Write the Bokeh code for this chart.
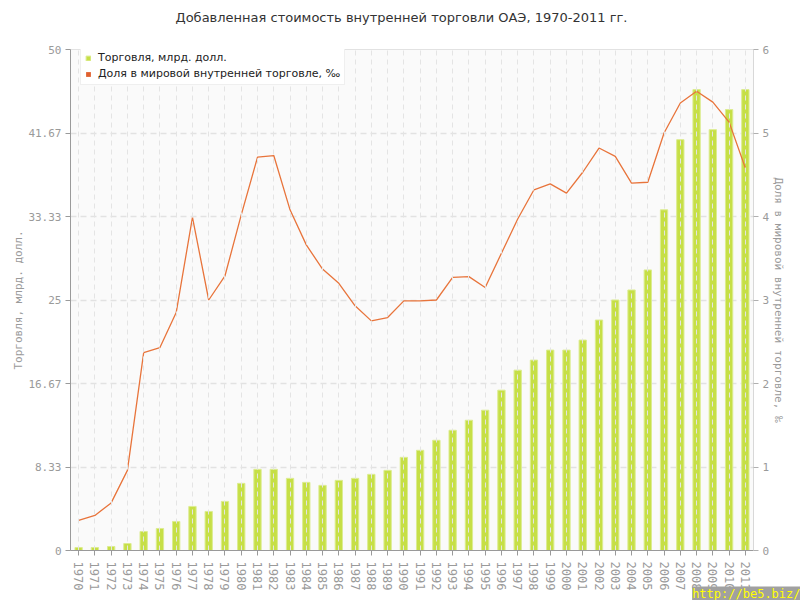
from bokeh.plotting import figure
from bokeh.models import (Range1d, LinearAxis, FactorRange, FixedTicker, CustomJSTickFormatter,
                          Legend, LegendItem, Title, ColumnDataSource)
from bokeh.embed import file_html
from bokeh.resources import INLINE

years = ["1970", "1971", "1972", "1973", "1974", "1975", "1976", "1977", "1978", "1979",
         "1980", "1981", "1982", "1983", "1984", "1985", "1986", "1987", "1988", "1989",
         "1990", "1991", "1992", "1993", "1994", "1995", "1996", "1997", "1998", "1999",
         "2000", "2001", "2002", "2003", "2004", "2005", "2006", "2007", "2008", "2009",
         "2010", "2011"]

trade = [0.3, 0.3, 0.4, 0.7, 1.9, 2.2, 2.9, 4.4, 3.9, 4.9,
         6.7, 8.1, 8.1, 7.2, 6.8, 6.5, 7.0, 7.2, 7.6, 8.0,
         9.3, 10.0, 11.0, 12.0, 13.0, 14.0, 16.0, 18.0, 19.0, 20.0,
         20.0, 21.0, 23.0, 25.0, 26.0, 28.0, 34.0, 41.0, 46.0, 42.0,
         44.0, 46.0]

share = [0.36, 0.42, 0.57, 0.96, 2.37, 2.43, 2.85, 3.99, 3.00, 3.29,
         4.02, 4.71, 4.73, 4.08, 3.66, 3.37, 3.20, 2.93, 2.75, 2.79,
         2.99, 2.99, 3.00, 3.27, 3.28, 3.15, 3.56, 3.97, 4.32, 4.39,
         4.28, 4.53, 4.82, 4.72, 4.40, 4.41, 5.00, 5.36, 5.50, 5.37,
         5.13, 4.58]

left_ticks = [0, 50 / 6, 100 / 6, 25, 200 / 6, 250 / 6, 50]
right_ticks = [0, 1, 2, 3, 4, 5, 6]

title_text = "Добавленная стоимость внутренней торговли ОАЭ, 1970-2011 гг."
trade_label = "Торговля, млрд. долл."
share_label = "Доля в мировой внутренней торговле, ‰"
watermark = "http://be5.biz/"

src = ColumnDataSource(dict(year=years, trade=trade, share=share))

GREY = "#9a9a9a"
BAR = "#c6df46"
LINE = "#e8743b"
SHARE_KEY = "#e0602e"
mono = "DejaVu Sans Mono"

p = figure(width=800, height=600, x_range=FactorRange(*years), y_range=Range1d(0, 50),
           output_backend="svg", toolbar_location=None,
           min_border_left=70, min_border_right=47, min_border_top=49, min_border_bottom=50,
           background_fill_color="#fafafa", border_fill_color="white")
p.outline_line_color = "#e2e2e2"

# empty spacer between the frame and the title (title is stacked outermost)
p.add_layout(Title(text=" ", text_font_size="1px", standoff=22), "above")

# title
p.title.text = title_text
p.title.align = "left"
p.title.offset = 105
p.title.text_font = "DejaVu Sans"
p.title.text_font_size = "13px"
p.title.text_font_style = "normal"
p.title.text_color = "#333333"
p.title.standoff = 0

p.extra_y_ranges = {"share": Range1d(0, 6)}

bars = p.vbar(x="year", top="trade", width=0.45, source=src,
              fill_color=BAR, line_color="#dcec90", line_width=1)
p.line(x="year", y="share", y_range_name="share", source=src,
       line_color=LINE, line_width=1.3)
# zero-height, fill-only bars: invisible in the plot, give the line's series a square legend key
share_key = p.vbar(x="year", top=0, bottom=0, width=0.45, source=src,
                   fill_color=SHARE_KEY, line_color=None)

# axes
la = p.yaxis[0]
la.ticker = FixedTicker(ticks=left_ticks)
la.formatter = CustomJSTickFormatter(code="return (Math.round(tick*100)/100).toString();")
la.axis_label = trade_label

ra = LinearAxis(y_range_name="share", ticker=FixedTicker(ticks=right_ticks), axis_label=share_label)
p.add_layout(ra, "right")

for ax in (la, ra, p.xaxis[0]):
    ax.major_label_text_font = mono
    ax.major_label_text_font_size = "11px"
    ax.major_label_text_color = GREY
    ax.axis_label_text_font = mono
    ax.axis_label_text_font_size = "11px"
    ax.axis_label_text_font_style = "normal"
    ax.axis_label_text_color = GREY
    ax.axis_line_color = GREY
    ax.major_tick_line_color = GREY
    ax.major_tick_out = 5
    ax.major_tick_in = 0
    ax.minor_tick_line_color = None
ra.axis_line_color = "#d8d8d8"
ra.major_tick_line_color = "#b0b0b0"
ra.major_label_standoff = 4
ra.axis_label_standoff = 0
la.major_label_standoff = 4
la.axis_label_standoff = 0

xa = p.xaxis[0]
xa.major_label_orientation = "vertical"
xa.major_label_text_font_size = "12px"
xa.major_label_standoff = 6

# grids
p.ygrid.ticker = FixedTicker(ticks=left_ticks)
p.ygrid.grid_line_color = "#e2e2e2"
p.ygrid.grid_line_dash = "6 4"
p.ygrid.grid_line_width = 1.5
p.xgrid.grid_line_color = "#e4e4e4"
p.xgrid.grid_line_dash = "5 4"
p.xgrid.grid_line_width = 1
p.xgrid.level = "glyph"

# legend (inside the frame, top left)
legend = Legend(items=[LegendItem(label=trade_label, renderers=[bars]),
                       LegendItem(label=share_label, renderers=[share_key])],
                location=(10, 465), orientation="vertical",
                glyph_width=6, glyph_height=6, label_height=12, label_standoff=7,
                spacing=3, padding=4, margin=0,
                label_text_font="DejaVu Sans", label_text_font_size="11px",
                label_text_color="#222222",
                background_fill_color="white", background_fill_alpha=1,
                border_line_color="#e0e0e0", border_line_width=1)
p.add_layout(legend)

# watermark below the x axis, at the right
wm = Title(text=watermark, align="right", offset=-47, standoff=-14, vertical_align="top",
           text_font=mono, text_font_size="12px", text_font_style="normal",
           text_color="#ffff00", background_fill_color="#a0a0a0", background_fill_alpha=1)
p.add_layout(wm, "below")

open("out.html", "w").write(file_html(p, INLINE))
